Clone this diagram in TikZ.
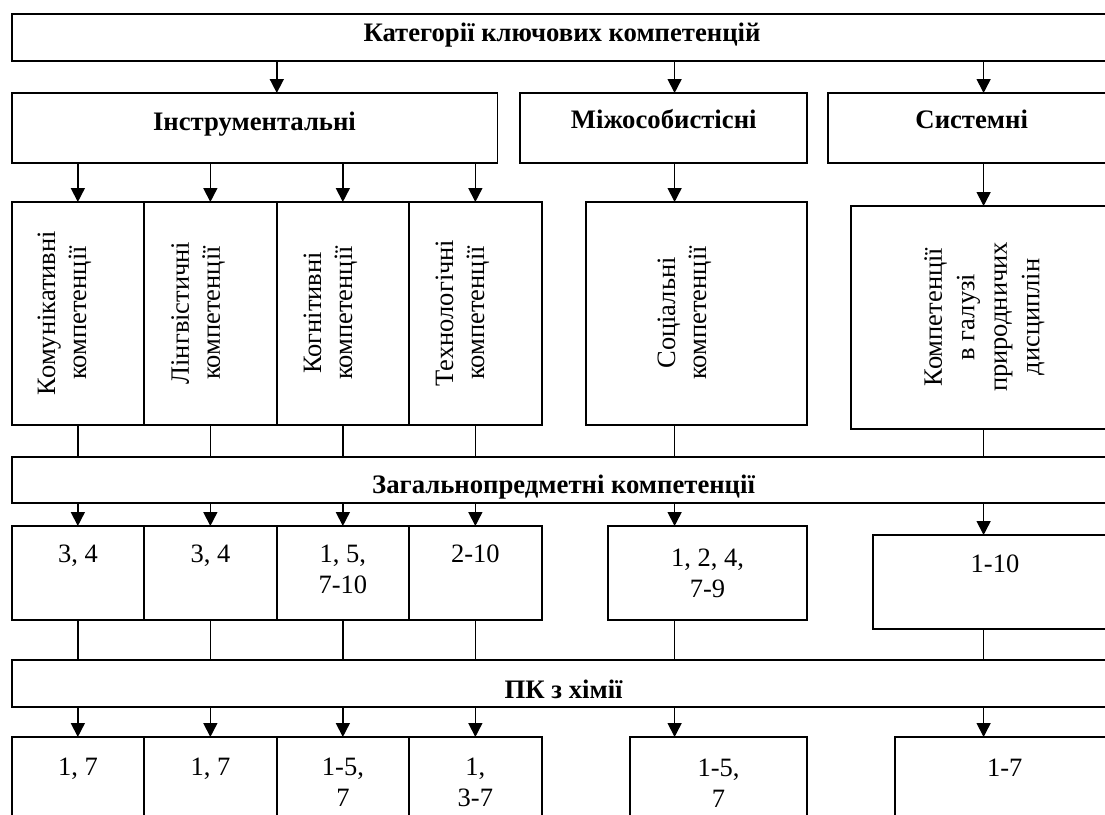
\documentclass[tikz,border=0pt]{standalone}
\usepackage{fontspec}
\setmainfont{Liberation Serif}
\usetikzlibrary{arrows.meta,fit}
\begin{document}
\begin{tikzpicture}[x=1pt,y=-1pt,
  box/.style={draw, line width=1.9pt, inner sep=0pt, outer sep=0pt},
  conn/.style={line width=1.6pt},
  arr/.style={line width=1.6pt, -{Triangle[width=14pt,length=14pt]}},
  hd/.style={font=\fontsize{26.7}{31}\selectfont\bfseries, inner sep=0pt, anchor=base},
  tx/.style={font=\fontsize{26.5}{31}\selectfont, inner sep=0pt, align=center, anchor=north},
  vt/.style={font=\fontsize{26.5}{31}\selectfont, inner sep=0pt, align=center, rotate=90}]
\useasboundingbox (0,0) rectangle (1105,814);
\fill[white] (0,0) rectangle (1105,814);
\clip (0,0) rectangle (1105,814);
% columns
\coordinate (ci) at (276.8,0);
\coordinate (cm) at (674.6,0);
\coordinate (cs) at (983.6,0);
% boxes
\node[box, fit={(11.8,14) (1130,61)}] (top) {};
\node[box, fit={(11.8,93) (497.5,163)}] (inst) {};
\node[box, fit={(519.6,93) (806.8,163)}] (mizh) {};
\node[box, fit={(828.2,93) (1130,163)}] (sys) {};
\node[box, fit={(11.8,202) (143.9,425)}] (k1) {};
\node[box, fit={(143.9,202) (276.8,425)}] (k2) {};
\node[box, fit={(276.8,202) (408.9,425)}] (k3) {};
\node[box, fit={(408.9,202) (541.8,425)}] (k4) {};
\node[box, fit={(586.1,202) (806.8,425)}] (soc) {};
\node[box, fit={(851.1,206) (1130,429)}] (nat) {};
\node[box, fit={(11.8,457) (1130,503)}] (zag) {};
\node[box, fit={(11.8,526) (143.9,620)}] (g1) {};
\node[box, fit={(143.9,526) (276.8,620)}] (g2) {};
\node[box, fit={(276.8,526) (408.9,620)}] (g3) {};
\node[box, fit={(408.9,526) (541.8,620)}] (g4) {};
\node[box, fit={(607.9,526) (806.8,620)}] (g5) {};
\node[box, fit={(872.9,535) (1130,629)}] (g6) {};
\node[box, fit={(11.8,660) (1130,707)}] (pk) {};
\node[box, fit={(11.8,737) (143.9,830)}] (r1) {};
\node[box, fit={(143.9,737) (276.8,830)}] (r2) {};
\node[box, fit={(276.8,737) (408.9,830)}] (r3) {};
\node[box, fit={(408.9,737) (541.8,830)}] (r4) {};
\node[box, fit={(629.6,737) (806.8,830)}] (r5) {};
\node[box, fit={(895,737) (1130,830)}] (r6) {};
% texts
\node[hd] (topt) at (562,41.5) {Категорії ключових компетенцій};
\node[hd] (instt) at (254.5,130) {Інструментальні};
\node[hd] (mizht) at (663.7,128) {Міжособистісні};
\node[hd] (syst) at (971.7,128) {Системні};
\node[hd] (zagt) at (563.6,493) {Загальнопредметні компетенції};
\node[hd] (pkt) at (563.6,698) {ПК з хімії};
\node[vt] (k1t) at (64.3,313) {Комунікативні\\компетенції};
\node[vt] (k2t) at (198.2,313) {Лінгвістичні\\компетенції};
\node[vt] (k3t) at (330.4,313) {Когнітивні\\компетенції};
\node[vt] (k4t) at (462.5,313) {Технологічні\\компетенції};
\node[vt] (soct) at (684.3,313) {Соціальні\\компетенції};
\node[vt, font=\fontsize{26.5}{32.5}\selectfont] (natt) at (984.3,317) {Компетенції\\в галузі\\природничих\\дисциплін};
\node[tx] (g1t) at (77.9,545) {3, 4};
\node[tx] (g2t) at (210.4,545) {3, 4};
\node[tx] (g3t) at (342.9,545) {1, 5,\\7-10};
\node[tx] (g4t) at (475.4,545) {2-10};
\node[tx] (g5t) at (707.5,549) {1, 2, 4,\\7-9};
\node[tx] (g6t) at (995,555) {1-10};
\node[tx] (r1t) at (77.9,758) {1, 7};
\node[tx] (r2t) at (210.4,758) {1, 7};
\node[tx] (r3t) at (342.9,758) {1-5,\\7};
\node[tx] (r4t) at (475.4,758) {1,\\3-7};
\node[tx] (r5t) at (718.5,759) {1-5,\\7};
\node[tx] (r6t) at (1004.8,759) {1-7};
% connectors level 1
\draw[arr] (top.south -| ci) -- (inst.north -| ci);
\draw[arr] (top.south -| cm) -- (mizh.north -| cm);
\draw[arr] (top.south -| cs) -- (sys.north -| cs);
% level 2
\foreach \k in {k1,k2,k3,k4}{
  \draw[arr] (inst.south -| \k.north) -- (\k.north);
}
\draw[arr] (mizh.south -| cm) -- (soc.north -| cm);
\draw[arr] (sys.south -| cs) -- (nat.north -| cs);
% level 3
\foreach \k in {k1,k2,k3,k4}{
  \draw[conn] (\k.south) -- (zag.north -| \k.south);
}
\draw[conn] (soc.south -| cm) -- (zag.north -| cm);
\draw[conn] (nat.south -| cs) -- (zag.north -| cs);
% level 4
\foreach \k/\g in {k1/g1,k2/g2,k3/g3,k4/g4}{
  \draw[arr] (zag.south -| \k.south) -- (\g.north);
}
\draw[arr] (zag.south -| cm) -- (g5.north -| cm);
\draw[arr] (zag.south -| cs) -- (g6.north -| cs);
% level 5
\foreach \g in {g1,g2,g3,g4}{
  \draw[conn] (\g.south) -- (pk.north -| \g.south);
}
\draw[conn] (g5.south -| cm) -- (pk.north -| cm);
\draw[conn] (g6.south -| cs) -- (pk.north -| cs);
% level 6
\foreach \g/\r in {g1/r1,g2/r2,g3/r3,g4/r4}{
  \draw[arr] (pk.south -| \g.south) -- (\r.north);
}
\draw[arr] (pk.south -| cm) -- (r5.north -| cm);
\draw[arr] (pk.south -| cs) -- (r6.north -| cs);
\end{tikzpicture}
\end{document}
